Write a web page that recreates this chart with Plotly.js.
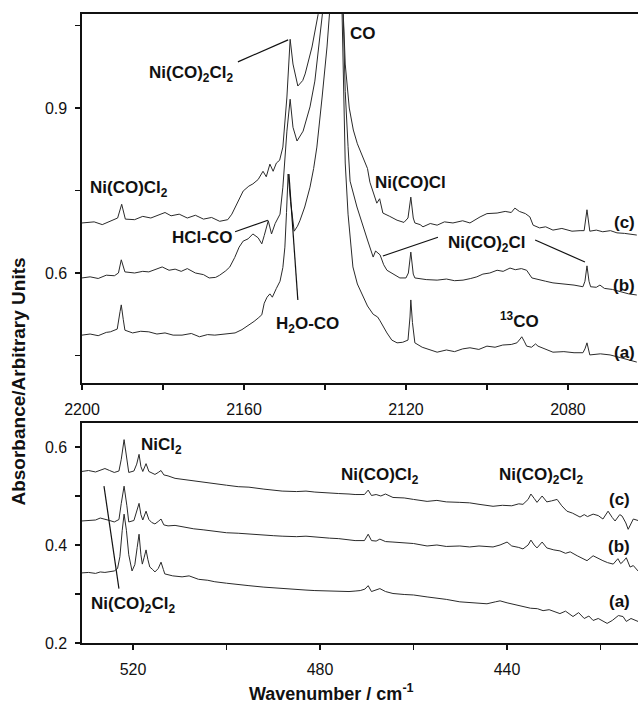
<!DOCTYPE html>
<html>
<head>
<meta charset="utf-8">
<script src="https://cdn.plot.ly/plotly-3.0.1.min.js"></script>
<style>html,body{margin:0;padding:0;background:#fff;}#chart{width:638px;height:709px;}</style>
</head>
<body>
<div id="chart"></div>
<script>
// ---------- Data: upper panel (CO stretching region), [wavenumber, absorbance] ----------
const topTraceA = [
[2200,0.487],[2198,0.489],[2196,0.486],[2194,0.492],[2193,0.493],[2191.3,0.498],[2190.6,0.530],[2190.3,0.542],[2189.8,0.515],[2189.4,0.496],
[2187.5,0.491],[2185.5,0.494],[2183.5,0.493],[2181.5,0.489],[2179.5,0.491],[2177.5,0.487],[2175.3,0.487],[2173,0.490],[2171,0.484],[2169,0.488],
[2167.2,0.487],[2165,0.489],[2163.5,0.489],[2162.2,0.491],[2160.5,0.497],[2158.8,0.505],[2157.5,0.512],[2156.5,0.518],[2155.6,0.524],[2155.0,0.545],
[2154.3,0.556],[2153.6,0.562],[2153,0.556],[2152,0.572],[2151.1,0.585],[2150.4,0.610],[2149.9,0.647],[2149.5,0.71],[2149.1,0.780],[2148.5,0.73],
[2148.1,0.707],[2147.6,0.676],[2146.8,0.685],[2146.2,0.695],[2145,0.72],[2143.7,0.756],[2142.8,0.79],[2142,0.829],[2140.7,0.92],[2139.5,1.011],
[2138.8,1.08],[2138.5,1.15],[2136,1.15],[2135.6,1.0],[2135.0,0.80],[2134.3,0.707],[2133.1,0.611],[2132,0.58],[2130.6,0.556],[2129.5,0.54],
[2128.1,0.525],[2127,0.52],[2126.4,0.513],[2125.5,0.50],[2124.7,0.491],[2123.5,0.478],[2122.2,0.473],[2120.8,0.474],[2119.5,0.478],[2119,0.52],
[2118.8,0.551],[2118.4,0.51],[2117.8,0.473],[2116,0.465],[2114,0.46],[2112.3,0.456],[2110,0.460],[2108,0.457],[2106,0.462],[2104.2,0.464],
[2102,0.461],[2100,0.467],[2098,0.465],[2096.1,0.469],[2094,0.470],[2092.6,0.473],[2091.8,0.480],[2091.4,0.484],[2090.8,0.476],[2090.2,0.467],
[2089,0.465],[2088,0.471],[2087.4,0.467],[2085.5,0.462],[2083.7,0.456],[2081,0.457],[2078.5,0.455],[2076.3,0.455],[2075.8,0.462],[2075.3,0.473],
[2074.9,0.460],[2074.6,0.451],[2072,0.453],[2069.6,0.451],[2067,0.446],[2065,0.442],[2063,0.438]
];
const topTraceB = [
[2200,0.591],[2198,0.593],[2196,0.590],[2194,0.596],[2192,0.595],[2191,0.600],[2190.3,0.624],[2189.4,0.602],[2187,0.600],[2185,0.603],
[2183.5,0.602],[2182,0.606],[2180.2,0.611],[2178.5,0.605],[2177,0.607],[2175.5,0.603],[2174,0.608],[2172,0.600],[2170,0.597],[2168.6,0.591],
[2167,0.592],[2166,0.596],[2164.5,0.604],[2163.5,0.611],[2162.3,0.628],[2161.2,0.647],[2160.2,0.658],[2159,0.662],[2157.8,0.671],[2156.5,0.664],
[2155.6,0.653],[2155,0.668],[2154,0.695],[2153.2,0.671],[2152.3,0.690],[2151.1,0.707],[2150.4,0.756],[2149.4,0.858],[2148.6,0.916],[2147.9,0.865],
[2146.9,0.840],[2145.4,0.858],[2143.7,0.902],[2142.5,0.949],[2141.5,1.011],[2140.5,1.08],[2140,1.15],[2136,1.15],[2135.5,1.07],[2135,0.93],
[2134.3,0.83],[2133.8,0.767],[2132.1,0.72],[2130.6,0.684],[2129.5,0.66],[2128.1,0.629],[2127.5,0.64],[2126.4,0.633],[2125.5,0.615],[2124.7,0.605],
[2123,0.597],[2121.5,0.591],[2120,0.591],[2119.4,0.600],[2118.8,0.638],[2118.2,0.598],[2117.8,0.591],[2115,0.588],[2112.3,0.587],[2110,0.589],
[2108,0.586],[2105.9,0.587],[2104,0.590],[2102.5,0.593],[2101,0.598],[2099.3,0.600],[2097.5,0.605],[2096,0.603],[2094.3,0.609],[2093,0.606],
[2091.5,0.608],[2090.2,0.605],[2088.9,0.591],[2087,0.587],[2085.5,0.585],[2083.7,0.582],[2081,0.580],[2078.5,0.578],[2076.3,0.575],[2075.8,0.585],
[2075.3,0.613],[2074.8,0.585],[2074.4,0.575],[2073,0.574],[2072.1,0.578],[2071,0.572],[2069,0.570],[2067,0.566],[2065,0.562],[2063,0.560]
];
const topTraceC = [
[2200,0.691],[2197,0.693],[2195,0.688],[2193,0.695],[2191.2,0.700],[2190.2,0.725],[2189.3,0.698],[2187,0.697],[2185,0.703],[2183,0.700],
[2181,0.706],[2179.5,0.710],[2178,0.704],[2176,0.707],[2174,0.700],[2172,0.705],[2170,0.698],[2168,0.701],[2166,0.694],[2164,0.697],
[2163,0.707],[2161.7,0.727],[2160.2,0.749],[2158.8,0.758],[2157.8,0.762],[2156.5,0.770],[2155.3,0.785],[2154.5,0.775],[2153.6,0.798],[2152.8,0.785],
[2152,0.800],[2151.2,0.805],[2150.4,0.829],[2149.4,0.92],[2148.6,1.025],[2147.9,0.98],[2146.7,0.94],[2145.5,0.950],[2144.9,0.962],[2143.2,1.011],
[2141.7,1.07],[2141,1.15],[2136,1.15],[2135.3,1.04],[2135,0.98],[2134,0.90],[2133,0.86],[2132,0.835],[2130.6,0.811],[2129.5,0.790],
[2128.9,0.765],[2128,0.745],[2127.2,0.727],[2126.5,0.735],[2125.7,0.709],[2124,0.703],[2122.2,0.696],[2120.5,0.692],[2119.5,0.700],[2118.8,0.738],
[2118.2,0.700],[2117.8,0.691],[2116.5,0.688],[2115.8,0.684],[2114,0.690],[2112.3,0.687],[2110.5,0.693],[2108.4,0.691],[2106,0.695],[2104.2,0.691],
[2103,0.697],[2101.7,0.702],[2100,0.708],[2097.5,0.709],[2095.5,0.712],[2094,0.710],[2093.1,0.718],[2092,0.712],[2090.5,0.708],[2089.4,0.702],
[2088.6,0.687],[2087,0.682],[2085.5,0.684],[2083.7,0.678],[2081.5,0.681],[2079,0.676],[2077,0.677],[2076,0.677],[2075.3,0.715],[2074.6,0.676],
[2073,0.678],[2071.4,0.675],[2069.5,0.677],[2067.9,0.673],[2066,0.672],[2063,0.669]
];

// ---------- Data: lower panel (low-frequency region), [wavenumber, absorbance] ----------
const lowTraceA = [
[531,0.343],[529.5,0.344],[528,0.342],[527,0.345],[526,0.344],[525,0.346],[524,0.347],[523.3,0.352],[522.8,0.376],[522.3,0.43],
[521.9,0.463],[521.4,0.43],[520.9,0.38],[520.2,0.347],[519.6,0.36],[519.1,0.395],[518.7,0.422],[518.3,0.38],[518.0,0.361],[517.6,0.375],
[517.2,0.390],[516.8,0.37],[516.4,0.355],[515.8,0.350],[515.3,0.345],[514.6,0.352],[514,0.365],[513.5,0.350],[513.2,0.341],[511.5,0.337],
[509.5,0.335],[508,0.337],[506,0.330],[504,0.328],[502.5,0.325],[500,0.322],[497.5,0.320],[495.2,0.317],[492,0.314],[490,0.313],
[488.1,0.311],[485,0.310],[483,0.308],[481.1,0.307],[478,0.306],[476,0.306],[473.8,0.305],[472.5,0.306],[471.4,0.307],[470.4,0.310],
[469.7,0.317],[469,0.305],[468.2,0.308],[467.2,0.311],[466,0.305],[464.4,0.301],[462,0.299],[460,0.298],[457.1,0.294],[455,0.292],
[453,0.289],[450.1,0.284],[448,0.283],[446,0.281],[444.3,0.280],[442.5,0.284],[441.5,0.286],[440,0.282],[438.5,0.279],[437.2,0.276],
[435,0.271],[433.5,0.270],[432.3,0.266],[431,0.268],[429.8,0.264],[428.7,0.260],[427.5,0.265],[426.5,0.257],[425.9,0.254],[424.7,0.262],
[423.5,0.250],[422.5,0.255],[421.6,0.246],[420.5,0.250],[419.5,0.244],[418.6,0.240],[417.5,0.246],[416.2,0.256],[415.2,0.254],[414.5,0.244],
[413.5,0.250],[412,0.244]
];
const lowTraceB = [
[531,0.449],[529.5,0.450],[528,0.451],[527,0.455],[526,0.453],[525,0.450],[524,0.447],[523,0.452],[522.5,0.485],[521.9,0.520],
[521.3,0.48],[520.9,0.447],[519.8,0.450],[519.2,0.468],[518.7,0.485],[518.3,0.462],[517.9,0.451],[517.2,0.469],[516.6,0.452],[516,0.446],
[515.3,0.443],[514.6,0.448],[514,0.453],[513.4,0.441],[512.5,0.439],[511,0.440],[509.5,0.437],[507,0.433],[505,0.431],[502.5,0.428],
[500,0.425],[497.5,0.424],[495.2,0.422],[492,0.420],[490,0.419],[488.1,0.418],[485,0.417],[483,0.418],[481.1,0.416],[478,0.414],
[476,0.413],[473.8,0.410],[472.5,0.409],[470.5,0.409],[469.7,0.422],[469,0.409],[468,0.408],[467.2,0.412],[466,0.407],[464.4,0.406],
[462,0.404],[460,0.403],[457.1,0.398],[455,0.400],[453,0.397],[450.1,0.398],[448,0.396],[446,0.398],[443,0.396],[441.5,0.400],
[440,0.406],[439,0.398],[437.5,0.395],[436.6,0.392],[435.5,0.400],[434.9,0.410],[434.2,0.400],[433.6,0.394],[432.5,0.406],[431.5,0.394],
[430,0.390],[428.7,0.388],[427.5,0.383],[426.5,0.386],[425,0.378],[424,0.374],[422.9,0.368],[421.6,0.378],[420.5,0.372],[419.5,0.368],
[418.5,0.364],[417.3,0.361],[416.3,0.372],[415.7,0.362],[415.2,0.366],[414.5,0.374],[413.7,0.355],[413,0.358],[412,0.347]
];
const lowTraceC = [
[531,0.550],[529.5,0.552],[528,0.549],[527,0.553],[526,0.556],[525,0.552],[524,0.548],[523,0.551],[522.5,0.575],[521.9,0.615],
[521.3,0.575],[520.9,0.548],[519.8,0.551],[519.2,0.565],[518.7,0.585],[518.3,0.56],[517.9,0.55],[517.2,0.566],[516.6,0.55],[516,0.547],
[515.3,0.544],[514.6,0.548],[514,0.552],[513.4,0.543],[512.5,0.541],[511,0.536],[509.5,0.534],[507,0.531],[505,0.528],[502.5,0.524],
[500,0.522],[497.5,0.519],[495.2,0.518],[492,0.514],[490,0.512],[488.1,0.510],[485,0.509],[483,0.510],[481.1,0.508],[478,0.507],
[476,0.505],[473.8,0.504],[472.5,0.503],[470.5,0.503],[469.7,0.512],[469,0.501],[468,0.503],[467,0.500],[466,0.504],[464.4,0.497],
[462,0.496],[460,0.493],[457.1,0.489],[455,0.491],[453,0.488],[450.1,0.487],[448,0.486],[446,0.483],[443,0.479],[441,0.481],
[439,0.480],[437.5,0.484],[436.6,0.483],[435.5,0.493],[434.9,0.504],[434.2,0.495],[433.6,0.487],[432.5,0.500],[431.5,0.488],[430.5,0.490],
[429.3,0.493],[428.3,0.480],[427.2,0.469],[426,0.465],[425,0.460],[424.4,0.457],[423.5,0.462],[422.8,0.458],[421.6,0.463],[420.5,0.460],
[419.5,0.453],[418.4,0.469],[417.5,0.456],[416.9,0.449],[415.9,0.462],[415.4,0.459],[414.6,0.445],[414.1,0.432],[413,0.453],[412,0.450]
];

// ---------- Ticks ----------
const topXMajor = [2200,2160,2120,2080];
const topXMinor = [2180,2140,2100];
const topYMajor = [0.6,0.9];
const topYMinor = [0.45,0.75,1.05];
const lowXMajor = [520,480,440];
const lowXMinor = [500,460,420];
const lowYMajor = [0.2,0.4,0.6];
const lowYMinor = [0.3,0.5];

const lineStyle = {color:'#2a2a2a', width:1};
function mk(arr, xa, ya){
  return {x: arr.map(p=>p[0]), y: arr.map(p=>p[1]), type:'scatter', mode:'lines',
          line: lineStyle, xaxis: xa, yaxis: ya, hoverinfo:'skip', showlegend:false};
}
const data = [
  mk(topTraceA,'x','y'), mk(topTraceB,'x','y'), mk(topTraceC,'x','y'),
  mk(lowTraceA,'x2','y2'), mk(lowTraceB,'x2','y2'), mk(lowTraceC,'x2','y2')
];

const FONT = 'Liberation Sans, Arial, sans-serif';
const tickFont = {family: FONT, size: 16, color:'#111'};
function axis(major, minor, extra){
  return Object.assign({showline:true, mirror:true, linecolor:'#111', linewidth:1.6, ticks:'outside',
    ticklen:5, tickwidth:1.2, tickcolor:'#111', showgrid:false, zeroline:false, tickfont: tickFont,
    tickmode:'array', tickvals: major, ticktext: major.map(v=>String(v)),
    minor:{tickmode:'array', tickvals: minor, ticks:'outside', ticklen:5, tickwidth:1.2, tickcolor:'#111', showgrid:false},
    fixedrange:true}, extra);
}

const lab = {family: FONT, size: 17, color:'#111', weight:'bold'};
function ann(text, x, y, xr, yr, extra){
  return Object.assign({text:text, x:x, y:y, xref:xr, yref:yr, showarrow:false, font:lab,
    xanchor:'center', yanchor:'middle'}, extra||{});
}
const annotations = [
  ann('Ni(CO)<sub>2</sub>Cl<sub>2</sub>', 2173.1, 0.962, 'x','y'),
  ann('CO', 2130.6, 1.035, 'x','y'),
  ann('Ni(CO)Cl', 2118.8, 0.765, 'x','y'),
  ann('Ni(CO)Cl<sub>2</sub>', 2188.4, 0.752, 'x','y'),
  ann('HCl-CO', 2170.4, 0.665, 'x','y'),
  ann('H<sub>2</sub>O-CO', 2144.4, 0.506, 'x','y'),
  ann('Ni(CO)<sub>2</sub>Cl', 2100.0, 0.653, 'x','y'),
  ann('<sup>13</sup>CO', 2091.9, 0.514, 'x','y'),
  ann('(c)', 2063.0, 0.691, 'x','y', {xanchor:'right'}),
  ann('(b)', 2063.0, 0.578, 'x','y', {xanchor:'right'}),
  ann('(a)', 2063.0, 0.456, 'x','y', {xanchor:'right'}),
  ann('NiCl<sub>2</sub>', 514.0, 0.602, 'x2','y2'),
  ann('Ni(CO)<sub>2</sub>Cl<sub>2</sub>', 520.0, 0.277, 'x2','y2'),
  ann('Ni(CO)Cl<sub>2</sub>', 467.2, 0.541, 'x2','y2'),
  ann('Ni(CO)<sub>2</sub>Cl<sub>2</sub>', 432.7, 0.541, 'x2','y2'),
  ann('(c)', 416.0, 0.493, 'x2','y2'),
  ann('(b)', 416.0, 0.396, 'x2','y2'),
  ann('(a)', 416.0, 0.284, 'x2','y2'),
  ann('Absorbance/Arbitrary Units', -0.1133, 0.4157, 'paper','paper', {textangle:-90, font:{family:FONT,size:19,color:'#111',weight:'bold'}}),
  ann('Wavenumber / cm<sup>-1</sup>', 0.4487, -0.078, 'paper','paper', {font:{family:FONT,size:18,color:'#111',weight:'bold'}})
];

function seg(x0,y0,x1,y1,xr,yr){
  return {type:'line', x0:x0, y0:y0, x1:x1, y1:y1, xref:xr, yref:yr, line:{color:'#111', width:1.2}};
}
const shapes = [
  seg(2161.5,0.984,2149.1,1.024,'x','y'),
  seg(2162.2,0.675,2154.1,0.696,'x','y'),
  seg(2146.7,0.551,2148.9,0.78,'x','y'),
  seg(2125.7,0.631,2112.1,0.665,'x','y'),
  seg(2088.1,0.66,2075.8,0.62,'x','y'),
  seg(526.2,0.52,523.0,0.311,'x2','y2')
];

const layout = {
  width:638, height:709,
  margin:{l:82, r:0, t:14, b:66},
  paper_bgcolor:'#fff', plot_bgcolor:'#fff',
  showlegend:false,
  xaxis: axis(topXMajor, topXMinor, {anchor:'y', domain:[0,1], range:[2200,2062.7], ticklabelstandoff:6}),
  yaxis: axis(topYMajor, topYMinor, {anchor:'x', domain:[0.4134,1], range:[0.4,1.071], ticklabelstandoff:5}),
  xaxis2: axis(lowXMajor, lowXMinor, {anchor:'y2', domain:[0,1], range:[530.9,412], ticklabelstandoff:6}),
  yaxis2: axis(lowYMajor, lowYMinor, {anchor:'x2', domain:[0,0.3498], range:[0.2,0.649], ticklabelstandoff:5}),
  annotations: annotations,
  shapes: shapes
};

Plotly.newPlot('chart', data, layout, {displayModeBar:false, staticPlot:true});
</script>
</body>
</html>
